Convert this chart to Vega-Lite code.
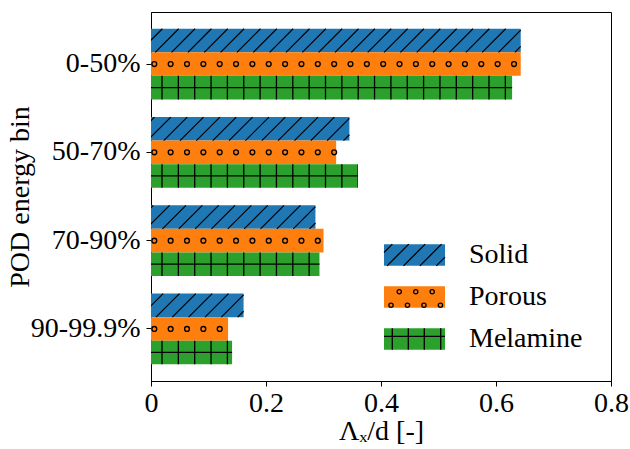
{
  "$schema": "https://vega.github.io/schema/vega-lite/v6.json",
  "width": 460,
  "height": 369,
  "autosize": {"type": "none"},
  "padding": {"left": 151, "top": 12, "right": 19, "bottom": 68},
  "background": "white",
  "config": {
    "view": {"stroke": "black", "strokeWidth": 1},
    "font": "Liberation Serif, DejaVu Serif, serif",
    "axis": {
      "domainColor": "black",
      "tickColor": "black",
      "tickSize": 5,
      "labelColor": "black",
      "titleColor": "black",
      "labelFont": "Liberation Serif, DejaVu Serif, serif",
      "titleFont": "Liberation Serif, DejaVu Serif, serif",
      "labelFontSize": 28,
      "titleFontSize": 28,
      "titleFontWeight": "normal",
      "grid": false,
      "zindex": 1
    },
    "legend": {
      "labelFont": "Liberation Serif, DejaVu Serif, serif",
      "labelFontSize": 28,
      "labelColor": "black",
      "labelLimit": 300,
      "padding": 0,
      "symbolOffset": 0
    }
  },
  "data": {
    "values": [
      {"bin": "0-50%", "series": "Solid", "value": 0.643},
      {"bin": "0-50%", "series": "Porous", "value": 0.643},
      {"bin": "0-50%", "series": "Melamine", "value": 0.628},
      {"bin": "50-70%", "series": "Solid", "value": 0.345},
      {"bin": "50-70%", "series": "Porous", "value": 0.322},
      {"bin": "50-70%", "series": "Melamine", "value": 0.36},
      {"bin": "70-90%", "series": "Solid", "value": 0.286},
      {"bin": "70-90%", "series": "Porous", "value": 0.3},
      {"bin": "70-90%", "series": "Melamine", "value": 0.293},
      {"bin": "90-99.9%", "series": "Solid", "value": 0.161},
      {"bin": "90-99.9%", "series": "Porous", "value": 0.134},
      {"bin": "90-99.9%", "series": "Melamine", "value": 0.141}
    ]
  },
  "encoding": {
    "y": {
      "field": "bin",
      "type": "nominal",
      "scale": {"domain": ["0-50%", "50-70%", "70-90%", "90-99.9%"], "paddingInner": 0.2, "paddingOuter": 0.19},
      "axis": {"title": "POD energy bin", "labelPadding": 6, "titlePadding": -4}
    },
    "yOffset": {
      "field": "series",
      "type": "nominal",
      "scale": {"domain": ["Solid", "Porous", "Melamine"], "paddingInner": 0, "paddingOuter": 0}
    }
  },
  "layer": [
    {
      "mark": {"type": "bar"},
      "encoding": {
        "x": {
          "field": "value",
          "type": "quantitative",
          "scale": {"domain": [0, 0.8], "nice": false},
          "axis": {"title": "Λₓ/d [-]", "values": [0, 0.2, 0.4, 0.6, 0.8], "format": "~g", "labelFlush": false, "labelOverlap": false, "labelPadding": 3, "titlePadding": 0}
        },
        "color": {
          "field": "series",
          "type": "nominal",
          "sort": null,
          "scale": {"range": ["#1f77b4", "#ff7f0e", "#2ca02c"]},
          "legend": {
            "title": null,
            "orient": "none",
            "legendX": 232,
            "legendY": 222,
            "clipHeight": 42,
            "symbolType": "M-1,-0.356H1V0.356H-1Z",
            "symbolSize": 3721,
            "symbolStrokeWidth": 1.3,
            "symbolStrokeColor": "transparent",
            "labelOffset": 23,
            "rowPadding": 0
          }
        }
      }
    },
    {
      "transform": [{"filter": "datum.series === 'Solid'"}],
      "mark": {
        "type": "point",
        "shape": "M-0.5,1L0,0.5M-1.889,1L0,-0.889M-3.278,1l2,-2m-3.389,2l2,-2m-3.389,2l2,-2m-3.389,2l2,-2m-3.389,2l2,-2m-3.389,2l2,-2m-3.389,2l2,-2m-3.389,2l2,-2m-3.389,2l2,-2m-3.389,2l2,-2m-3.389,2l2,-2m-3.389,2l2,-2m-3.389,2l2,-2m-3.389,2l2,-2m-3.389,2l2,-2m-3.389,2l2,-2m-3.389,2l2,-2m-3.389,2l2,-2m-3.389,2l2,-2m-3.389,2l2,-2m-3.389,2l2,-2m-3.389,2l2,-2m-3.389,2l2,-2",
        "size": 554.1,
        "filled": false,
        "stroke": "black",
        "strokeWidth": 1.2,
        "opacity": 1,
        "clip": true
      },
      "encoding": {"x": {"field": "value", "type": "quantitative"}}
    },
    {
      "transform": [{"filter": "datum.series === 'Porous'"}],
      "mark": {"type": "rule", "stroke": "black", "strokeWidth": 6.2, "strokeCap": "round", "strokeDash": [0.01, 16.34], "strokeDashOffset": {"expr": "3.3 - scale('x', datum.value)"}},
      "encoding": {"x": {"field": "value", "type": "quantitative"}, "x2": {"datum": 0}}
    },
    {
      "transform": [{"filter": "datum.series === 'Porous'"}],
      "mark": {"type": "rule", "stroke": "#ff7f0e", "strokeWidth": 3.5, "strokeCap": "round", "strokeDash": [0.01, 16.34], "strokeDashOffset": {"expr": "3.3 - scale('x', datum.value)"}},
      "encoding": {"x": {"field": "value", "type": "quantitative"}, "x2": {"datum": 0}}
    },
    {
      "transform": [{"filter": "datum.series === 'Melamine'"}],
      "mark": {"type": "rule", "stroke": "black", "strokeWidth": 23.54, "strokeCap": "butt", "strokeDash": [1.3, 15.05], "strokeDashOffset": {"expr": "11.65 - scale('x', datum.value)"}},
      "encoding": {"x": {"field": "value", "type": "quantitative"}, "x2": {"datum": 0}}
    },
    {
      "transform": [{"filter": "datum.series === 'Melamine'"}],
      "mark": {"type": "rule", "stroke": "black", "strokeWidth": 1.3},
      "encoding": {"x": {"field": "value", "type": "quantitative"}, "x2": {"datum": 0}}
    },
    {
      "transform": [{"filter": "false"}],
      "mark": {"type": "point", "filled": false, "color": "black", "strokeWidth": 1.3, "opacity": 1, "size": 3721},
      "encoding": {
        "shape": {
          "field": "series",
          "type": "nominal",
          "scale": {
            "domain": ["Solid", "Porous", "Melamine"],
            "range": [
              "M-1,-0.082L-0.726,-0.356M-0.9,0.356L-0.188,-0.356M-0.362,0.356L0.35,-0.356M0.176,0.356L0.888,-0.356M0.714,0.356L1,0.07",
              "M-0.43,-0.17a0.07,0.07 0 1,0 -0.14,0a0.07,0.07 0 1,0 0.14,0M0.11,-0.17a0.07,0.07 0 1,0 -0.14,0a0.07,0.07 0 1,0 0.14,0M0.65,-0.17a0.07,0.07 0 1,0 -0.14,0a0.07,0.07 0 1,0 0.14,0M-0.7,0.27a0.07,0.07 0 1,0 -0.14,0a0.07,0.07 0 1,0 0.14,0M-0.16,0.27a0.07,0.07 0 1,0 -0.14,0a0.07,0.07 0 1,0 0.14,0M0.38,0.27a0.07,0.07 0 1,0 -0.14,0a0.07,0.07 0 1,0 0.14,0M0.92,0.27a0.07,0.07 0 1,0 -0.14,0a0.07,0.07 0 1,0 0.14,0",
              "M-0.728,-0.356V0.356M-0.203,-0.356V0.356M0.321,-0.356V0.356M0.859,-0.356V0.356M-1,-0.087H1"
            ]
          },
          "legend": {
            "title": null,
            "orient": "none",
            "legendX": 232,
            "legendY": 222,
            "clipHeight": 42,
            "symbolSize": 3721,
            "symbolStrokeColor": "black",
            "symbolStrokeWidth": 1.3,
            "symbolFillColor": "transparent",
            "labelOffset": 23,
            "labelExpr": "''",
            "rowPadding": 0
          }
        }
      }
    }
  ]
}
